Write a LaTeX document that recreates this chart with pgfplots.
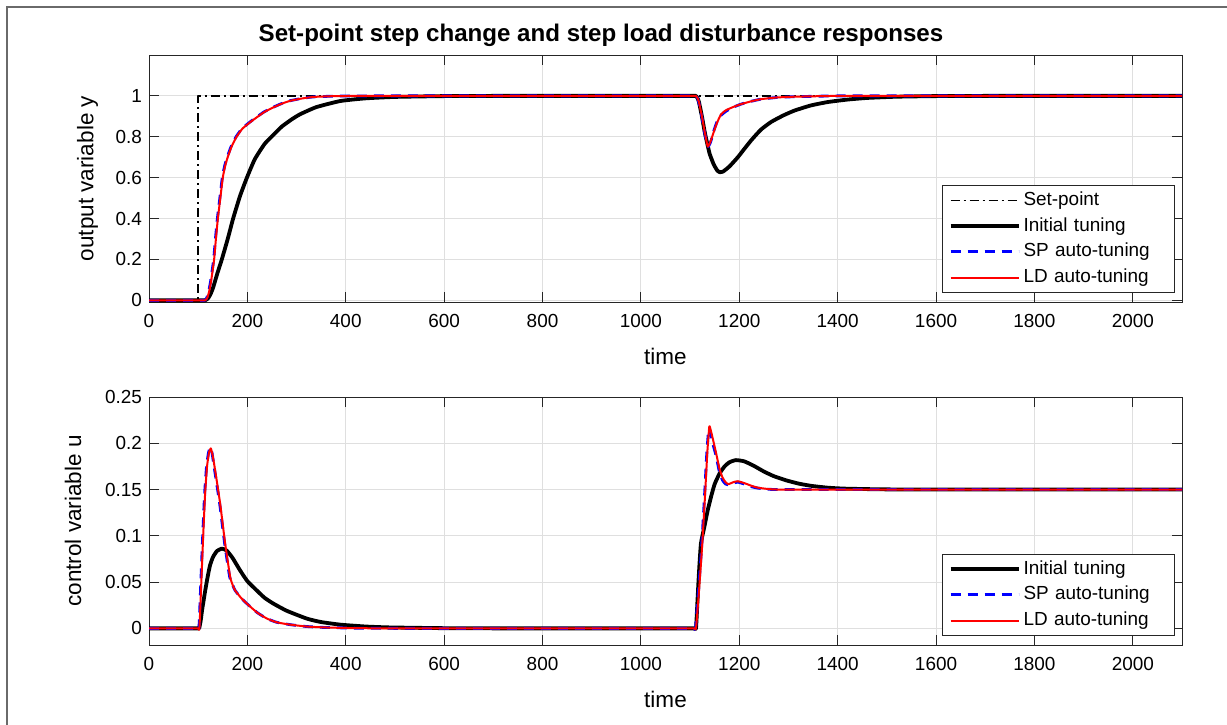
\documentclass[border=0pt]{standalone}
\usepackage{pgfplots}
\pgfplotsset{compat=1.18}
\usepackage{fontspec}
\setmainfont{Liberation Sans}
\definecolor{axgray}{HTML}{262626}
\definecolor{gridgray}{HTML}{DFDFDF}
\definecolor{framegray}{HTML}{6A6A6A}
\definecolor{mblue}{HTML}{0000FF}
\definecolor{mred}{HTML}{FF0000}

\pgfplotsset{
  mstyle/.style={
    scale only axis, width=516.5bp,
    xmin=0, xmax=2100,
    xtick={0,200,...,2000},
    grid=major,
    major grid style={color=gridgray, line width=0.5bp},
    axis line style={color=axgray, line width=0.5bp},
    tick style={color=axgray, line width=0.5bp},
    tick align=inside,
    major tick length=5bp,
    /pgf/number format/assume math mode=true,
    xticklabel style={/pgf/number format/1000 sep={}, yshift=-2.5bp},
    ticklabel style={font=\fontsize{9.5}{11}\selectfont, color=black},
    label style={font=\fontsize{11.3}{13}\selectfont},
    xlabel={time},
    xlabel style={yshift=-3.5bp},
    legend cell align=left,
    legend image code/.code={\draw[##1] (1.5bp,0bp) -- (35.5bp,0bp);},
    legend style={at={(1,0)}, anchor=south east, xshift=-3.5bp, yshift=4.5bp,
      draw=axgray, line width=0.5bp, inner xsep=3bp, inner ysep=1.5bp,
      font=\fontsize{9.5}{11}\selectfont,
      nodes={inner sep=1.5bp, text height=7bp, text depth=2bp},
      row sep=0.85bp,
      /tikz/every even column/.append style={column sep=0bp},
      /tikz/column 2/.style={nodes={text width=71bp}}},
    every axis plot/.append style={line join=round},
  }
}

\pgfplotstableread{
t y
0 0
100 0
100 1
2100 1
}\setpoint

\pgfplotstableread{
t y
0 0
50 0
80 0
98 0
108 0
114 0
120 0.01
125 0.03
130 0.06
135 0.10
140 0.14
148 0.20
160 0.30
171 0.40
185 0.51
199 0.60
215 0.69
235 0.765
253 0.81
270 0.85
290 0.885
307 0.91
340 0.945
389 0.975
440 0.988
500 0.995
600 0.999
700 1
800 1
900 1
1000 1
1060 1
1090 1
1103 1
1109 1
1112 1
1115 0.99
1118 0.97
1124 0.90
1130 0.82
1136 0.755
1140 0.715
1148 0.665
1155 0.636
1160 0.627
1167 0.630
1180 0.655
1197 0.70
1210 0.74
1225 0.785
1244 0.835
1265 0.873
1290 0.905
1312 0.928
1345 0.953
1380 0.970
1420 0.982
1460 0.990
1520 0.996
1600 0.999
1700 1
1850 1
2000 1
2100 1
}\yinit

\pgfplotstableread{
t y
0 0
50 0
80 0
97 0
106 0
110 0
113 0
117 0.01
121 0.04
125 0.09
128 0.14
131.5 0.2
135 0.3
139 0.4
144 0.5
149 0.6
154 0.66
159 0.70
167 0.753
177 0.8
189 0.84
204 0.87
218 0.895
234 0.922
252 0.944
269 0.962
286 0.976
309 0.987
334 0.995
380 0.999
450 1
550 1
700 1
850 1
1000 1
1060 1
1090 1
1103 1
1109 1
1112 1
1115 0.99
1118 0.965
1124 0.895
1130 0.815
1134 0.77
1137 0.752
1141 0.77
1145 0.80
1149 0.835
1155 0.875
1163 0.905
1173 0.925
1188 0.945
1204 0.96
1225 0.974
1244 0.984
1275 0.992
1312 0.996
1400 1
1550 1
1750 1
1950 1
2100 1
}\ysp

\pgfplotstableread{
t y
0 0
50 0
80 0
98 0
107 0
111 0
114 0
118 0.01
122 0.04
126 0.09
129 0.14
132.4 0.2
136 0.3
140 0.4
145 0.5
150 0.6
155 0.66
160 0.70
168 0.753
178 0.8
190 0.84
205 0.87
219 0.895
235 0.922
253 0.944
270 0.962
287 0.976
310 0.987
335 0.995
380 0.999
450 1
550 1
700 1
850 1
1000 1
1060 1
1090 1
1103 1
1109 1
1112 1
1115 0.99
1118 0.97
1124 0.90
1130 0.82
1134 0.77
1136 0.752
1138 0.758
1142 0.78
1149 0.83
1155 0.87
1163 0.91
1173 0.93
1188 0.946
1204 0.96
1225 0.974
1244 0.984
1275 0.992
1312 0.996
1400 1
1550 1
1750 1
1950 1
2100 1
}\yld

\pgfplotstableread{
t u
0 0
40 0
70 0
88 0
96 0
100 0
102 0
105 0.008
108 0.02
111 0.03
114 0.040
119 0.055
124 0.068
130 0.077
138 0.0835
148 0.0862
158 0.084
170 0.076
185 0.0628
200 0.051
219 0.041
235 0.033
253 0.0267
280 0.019
321 0.0105
350 0.0068
389 0.004
440 0.002
490 0.001
600 0.0002
700 0
800 0
900 0
1000 0
1060 0
1090 0
1102 0
1108 0
1112 0
1115 0.03
1118 0.06
1122 0.0917
1129 0.1096
1136 0.128
1143 0.143
1150 0.156
1160 0.1674
1170 0.175
1180 0.1795
1193 0.1818
1210 0.1805
1230 0.1755
1250 0.1695
1270 0.1645
1295 0.1600
1320 0.1565
1346 0.1540
1380 0.1520
1414 0.1510
1480 0.1503
1550 0.15
1650 0.15
1800 0.15
1950 0.15
2100 0.15
}\uinit

\pgfplotstableread{
t u
0 0
40 0
70 0
88 0
95 0
99 0
101.5 0
105 0.045
109 0.098
113 0.145
117 0.175
121 0.19
124.6 0.1955
128 0.19
133.4 0.171
143.6 0.135
153.8 0.0917
164 0.0556
170 0.047
175 0.041
187 0.033
199 0.0267
220 0.017
240 0.0105
260 0.0065
287 0.004
320 0.002
356 0.001
420 0.0002
500 0
600 0
750 0
900 0
1020 0
1070 0
1095 0
1104 0
1108 0
1111 0
1117 0.04
1123 0.085
1129 0.14
1134 0.19
1138 0.216
1141 0.212
1146 0.2
1153 0.186
1160 0.168
1166 0.16
1172 0.156
1178 0.155
1188 0.157
1197 0.158
1210 0.156
1225 0.153
1238 0.1515
1260 0.1503
1278 0.150
1320 0.15
1400 0.15
1550 0.15
1750 0.15
1950 0.15
2100 0.15
}\usp

\pgfplotstableread{
t u
0 0
40 0
70 0
88 0
96 0
100 0
102.5 0
106 0.045
110 0.098
114 0.145
118 0.175
122 0.19
125.6 0.1945
129 0.188
134.4 0.171
144.6 0.135
154.8 0.0917
165 0.0556
170 0.047
175 0.041
187 0.033
199 0.0267
220 0.017
240 0.0105
260 0.0065
287 0.004
320 0.002
356 0.001
420 0.0002
500 0
600 0
750 0
900 0
1020 0
1070 0
1096 0
1105 0
1109 0
1112 0
1118 0.04
1124 0.085
1130 0.14
1135 0.19
1139 0.218
1142 0.214
1147 0.203
1153 0.189
1160 0.172
1166 0.163
1172 0.158
1178 0.1558
1188 0.158
1197 0.159
1210 0.157
1225 0.154
1238 0.152
1260 0.1505
1278 0.150
1320 0.15
1400 0.15
1550 0.15
1750 0.15
1950 0.15
2100 0.15
}\uld

\begin{document}
\begin{tikzpicture}
\useasboundingbox (0,0) rectangle (613.5bp,-362.5bp);
\draw[line width=1bp, color=framegray] (3.6bp,-362.5bp) |- (613.5bp,-3.3bp);
\node[font=\bfseries\fontsize{12.1}{14}\selectfont] at (300.5bp,-17.5bp) {Set-point step change and step load disturbance responses};

\begin{axis}[mstyle,
  at={(74.5bp,-151bp)}, anchor=south west,
  height=123.5bp,
  ymin=-0.008, ymax=1.2,
  ytick={0,0.2,...,1},
  ylabel={output variable y},
  ylabel style={yshift=2bp},
]
\addplot[black, line width=0.7bp, dash pattern=on 4.5bp off 2bp on 1bp off 2bp] table[x=t,y=y]{\setpoint};
\addlegendentry{Set-point}
\addplot[black, line width=1.9bp, smooth, tension=0.3] table[x=t,y=y]{\yinit};
\addlegendentry{Initial tuning}
\addplot[mblue, line width=1.4bp, dash pattern=on 5bp off 3.5bp, smooth, tension=0.3] table[x=t,y=y]{\ysp};
\addlegendentry{SP auto-tuning}
\addplot[mred, line width=1bp, smooth, tension=0.3] table[x=t,y=y]{\yld};
\addlegendentry{LD auto-tuning}
\end{axis}

\begin{axis}[mstyle,
  at={(74.5bp,-322.5bp)}, anchor=south west,
  height=124bp,
  ymin=-0.018, ymax=0.25,
  ytick={0,0.05,...,0.25},
  yticklabel style={/pgf/number format/fixed, /pgf/number format/precision=2},
  ylabel={control variable u},
  ylabel style={yshift=5bp},
]
\addplot[black, line width=1.9bp, smooth, tension=0.3] table[x=t,y=u]{\uinit};
\addlegendentry{Initial tuning}
\addplot[mblue, line width=1.4bp, dash pattern=on 5bp off 3.5bp, smooth, tension=0.3] table[x=t,y=u]{\usp};
\addlegendentry{SP auto-tuning}
\addplot[mred, line width=1bp, smooth, tension=0.3] table[x=t,y=u]{\uld};
\addlegendentry{LD auto-tuning}
\end{axis}
\end{tikzpicture}
\end{document}
